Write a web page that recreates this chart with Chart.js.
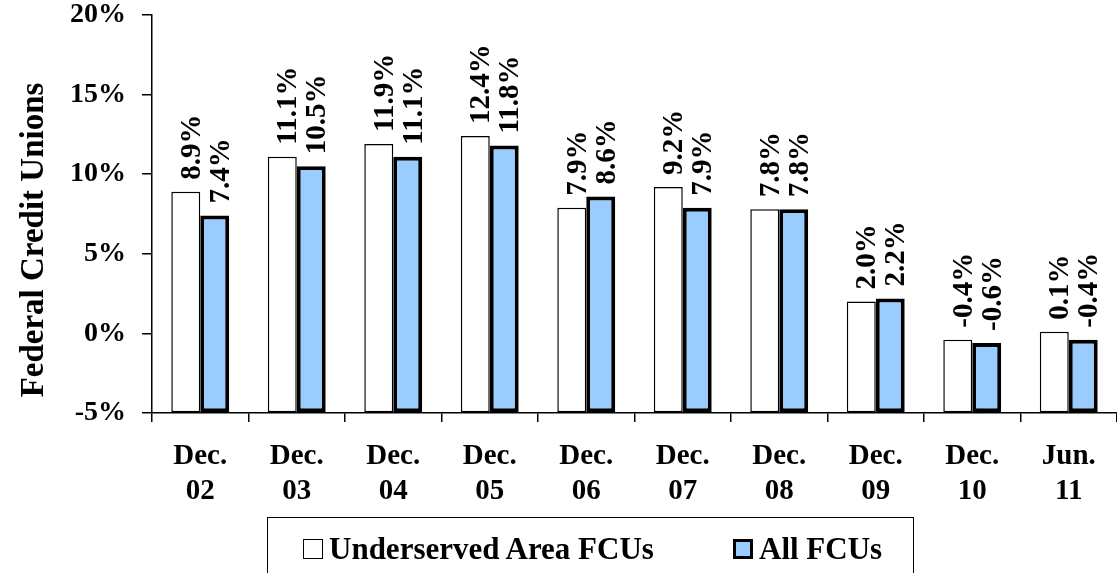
<!DOCTYPE html>
<html><head><meta charset="utf-8">
<script src="https://cdn.jsdelivr.net/npm/chart.js@4/dist/chart.umd.min.js"></script>
<style>
html,body{margin:0;padding:0;background:#fff;overflow:hidden;}
#wrap{position:relative;width:1117px;height:573px;}
#legend{position:absolute;left:267px;top:517px;width:647px;height:70px;border:1.5px solid #000;box-sizing:border-box;
  font-family:"Liberation Serif","Times New Roman",serif;font-weight:bold;font-size:31px;color:#000;}
.item{position:absolute;top:14px;display:flex;align-items:center;white-space:nowrap;line-height:34px;}
.sw{display:inline-block;box-sizing:border-box;width:20px;height:20px;margin-right:6px;}
</style></head>
<body><div id="wrap"><canvas id="c" width="1117" height="573"></canvas>
<div id="legend">
 <div class="item" style="left:35px"><span class="sw" style="background:#fff;border:1.5px solid #000"></span>Underserved Area FCUs</div>
 <div class="item" style="left:465px"><span class="sw" style="background:#99CCFF;border:3.5px solid #000"></span>All FCUs</div>
</div></div>
<script>
const categories = [["Dec.","02"],["Dec.","03"],["Dec.","04"],["Dec.","05"],["Dec.","06"],["Dec.","07"],["Dec.","08"],["Dec.","09"],["Dec.","10"],["Jun.","11"]];
const underserved = [8.9, 11.1, 11.9, 12.4, 7.9, 9.2, 7.8, 2.0, -0.4, 0.1];
const allFCUs = [7.4, 10.5, 11.1, 11.8, 8.6, 7.9, 7.8, 2.2, -0.6, -0.4];
const yTicks = [-5, 0, 5, 10, 15, 20];
const yTitle = "Federal Credit Unions";

const FONT = '"Liberation Serif","Times New Roman",serif';

const labelPlugin = {
  id: 'labels',
  afterDatasetsDraw(chart) {
    const ctx = chart.ctx;
    ctx.save();
    ctx.fillStyle = '#000';
    ctx.font = 'bold 29px ' + FONT;
    chart.data.datasets.forEach((ds, i) => {
      const meta = chart.getDatasetMeta(i);
      meta.data.forEach((bar, j) => {
        const v = ds.data[j];
        ctx.save();
        ctx.translate(bar.x + 14, bar.y - 12);
        ctx.rotate(-Math.PI / 2);
        ctx.textAlign = 'left';
        ctx.textBaseline = 'alphabetic';
        ctx.fillText(v.toFixed(1) + '%', 0, 0);
        ctx.restore();
      });
    });
    // y axis title
    ctx.save();
    ctx.font = 'bold 33px ' + FONT;
    ctx.translate(34, 240);
    ctx.rotate(-Math.PI / 2);
    ctx.textAlign = 'center';
    ctx.textBaseline = 'middle';
    ctx.fillText(yTitle, 0, 0);
    ctx.restore();
    ctx.restore();
  }
};

new Chart(document.getElementById('c'), {
  type: 'bar',
  data: {
    labels: categories,
    datasets: [
      { label: 'Underserved Area FCUs', data: underserved, base: yTicks[0],
        backgroundColor: '#ffffff', borderColor: '#000', borderWidth: 1.5, borderSkipped: false },
      { label: 'All FCUs', data: allFCUs, base: yTicks[0],
        backgroundColor: '#99CCFF', borderColor: '#000', borderWidth: 4, borderSkipped: false }
    ]
  },
  options: {
    responsive: false,
    animation: false,
    devicePixelRatio: 1,
    layout: { padding: { top: 15, right: 0, left: 0, bottom: 0 } },
    datasets: { bar: { categoryPercentage: 0.6, barPercentage: 1.0 } },
    plugins: { legend: { display: false }, tooltip: { enabled: false } },
    scales: {
      x: {
        afterFit: s => { s.height = 160; s.paddingLeft = 0; s.paddingRight = 0; },
        grid: { display: true, offset: true, drawOnChartArea: false, drawTicks: true, tickLength: 9, color: '#000', lineWidth: 1.5 },
        border: { display: true, color: '#000', width: 1.5 },
        ticks: { color: '#000', font: { family: FONT, weight: 'bold', size: 29, lineHeight: 1.2 }, padding: 17, maxRotation: 0, autoSkip: false }
      },
      y: {
        min: yTicks[0], max: yTicks[yTicks.length - 1],
        afterFit: s => { s.width = 152; s.paddingTop = 0; s.paddingBottom = 0; },
        afterBuildTicks: s => { s.ticks = yTicks.map(v => ({ value: v })); },
        grid: { display: true, drawOnChartArea: false, drawTicks: true, tickLength: 10, color: '#000', lineWidth: 1.5 },
        border: { display: true, color: '#000', width: 1.5 },
        ticks: { color: '#000', font: { family: FONT, weight: 'bold', size: 28, lineHeight: 1.0 }, padding: 16, callback: v => v + '%' }
      }
    }
  },
  plugins: [labelPlugin]
});
</script></body></html>
